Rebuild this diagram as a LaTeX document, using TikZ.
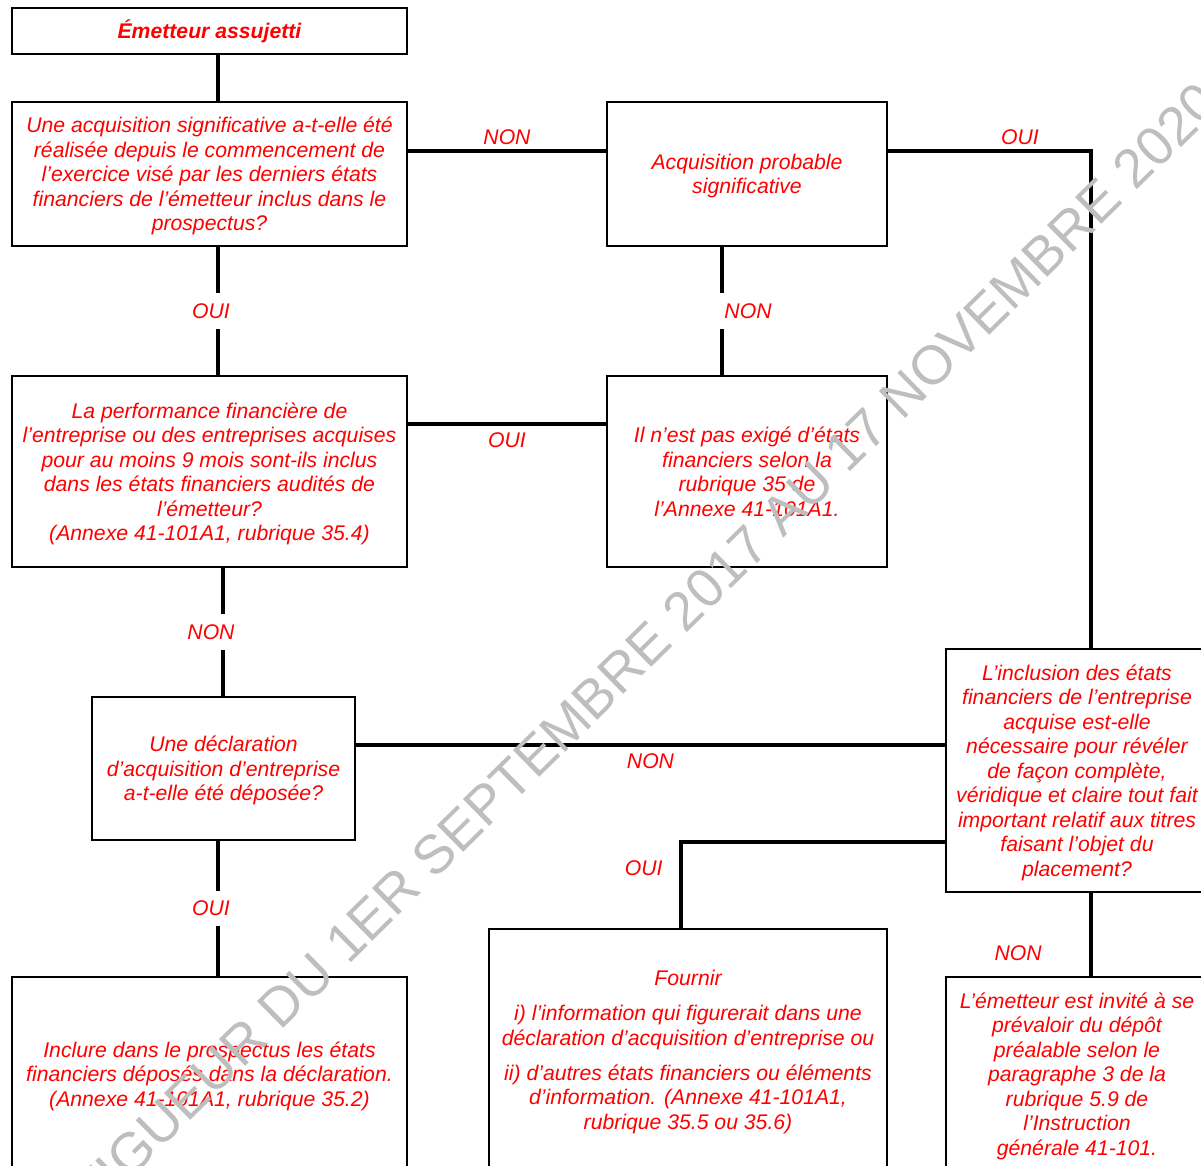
\documentclass[tikz,border=0pt]{standalone}
\usepackage{fontspec}
\setmainfont{Liberation Sans}

\definecolor{txtred}{RGB}{255,0,0}
\definecolor{wmgray}{RGB}{190,190,190}

\begin{document}
\begin{tikzpicture}[x=0.5pt,y=-0.5pt,
  box/.style={draw,line width=1pt,align=center,text=txtred,inner sep=0pt,
    font=\fontsize{10.6}{12.25}\selectfont\itshape},
  qbox/.style={box,text depth=-1pt},
  link/.style={line width=1.7pt},
  lbl/.style={text=txtred,font=\fontsize{10.6}{12.25}\selectfont\itshape},
  gap/.style={lbl,fill=white,inner xsep=3.5pt,inner ysep=5pt}]
  \useasboundingbox (0,0) rectangle (1201,1166);
  \clip (0,0) rectangle (1201,1166);

  % boxes
  \node[box,minimum width=197.5pt,minimum height=23pt] (e_0) at (209.5,31) {\textbf{Émetteur assujetti}};
  \node[qbox,minimum width=197.5pt,minimum height=72pt] (q_1) at (209.5,174)
    {Une acquisition significative a-t-elle été\\réalisée depuis le commencement de\\l’exercice visé par les derniers états\\financiers de l’émetteur inclus dans le\\prospectus?};
  \node[qbox,minimum width=140pt,minimum height=72pt] (q_2) at (747,174) {Acquisition probable\\significative};
  \node[qbox,minimum width=197.5pt,minimum height=95.5pt] (q_3) at (209.5,471.5)
    {La performance financière de\\l’entreprise ou des entreprises acquises\\pour au moins 9 mois sont-ils inclus\\dans les états financiers audités de\\l’émetteur?\\(Annexe 41-101A1, rubrique 35.4)};
  \node[qbox,minimum width=140pt,minimum height=95.5pt] (q_4) at (747,471.5)
    {Il n’est pas exigé d’états\\financiers selon la\\rubrique 35 de\\l’Annexe 41-101A1.};
  \node[qbox,minimum width=131.5pt,minimum height=71.5pt] (q_5) at (223.5,768.5)
    {Une déclaration\\d’acquisition d’entreprise\\a-t-elle été déposée?};
  \node[qbox,minimum width=131pt,minimum height=121.5pt] (q_6) at (1077,770.5)
    {L’inclusion des états\\financiers de l’entreprise\\acquise est-elle\\nécessaire pour révéler\\de façon complète,\\véridique et claire tout fait\\important relatif aux titres\\faisant l’objet du\\placement?};
  \node[qbox,minimum width=197.5pt,minimum height=97pt] (q_7) at (209.5,1074)
    {Inclure dans le prospectus les états\\financiers déposés dans la déclaration.\\(Annexe 41-101A1, rubrique 35.2)};
  \node[qbox,minimum width=199pt,minimum height=121pt] (q_8) at (688,1050)
    {Fournir\\[5.25pt]i) l’information qui figurerait dans une\\déclaration d’acquisition d’entreprise ou\\[5.25pt]ii) d’autres états financiers ou éléments\\d’information. (Annexe 41-101A1,\\rubrique 35.5 ou 35.6)};
  \node[qbox,minimum width=131pt,minimum height=97pt] (q_9) at (1077,1074)
    {L’émetteur est invité à se\\prévaloir du dépôt\\préalable selon le\\paragraphe 3 de la\\rubrique 5.9 de\\l’Instruction\\générale 41-101.};

  % where the lines run
  \coordinate (v_1) at (218,0);
  \coordinate (v_2) at (223,0);
  \coordinate (v_3) at (722,0);
  \coordinate (v_4) at (1091,0);
  \coordinate (v_5) at (681,0);
  \coordinate (h_1) at (0,151);
  \coordinate (h_2) at (0,424);
  \coordinate (h_3) at (0,745);
  \coordinate (h_4) at (0,842);

  % connectors
  \draw[link] (e_0.south -| v_1) -- (q_1.north -| v_1);
  \draw[link] (q_1.east |- h_1) -- node[lbl,above=-1pt] {NON} (q_2.west |- h_1);
  \draw[link] (q_2.east |- h_1) -- node[lbl,above=-1pt,pos=0.65] {OUI} (v_4 |- h_1) -- (q_6.north -| v_4);
  \draw[link] (q_1.south -| v_1) -- node[gap,xshift=-3.5pt] {OUI} (q_3.north -| v_1);
  \draw[link] (q_2.south -| v_3) -- node[gap,xshift=13pt] {NON} (q_4.north -| v_3);
  \draw[link] (q_3.east |- h_2) -- node[lbl,below] {OUI} (q_4.west |- h_2);
  \draw[link] (q_3.south -| v_2) -- node[gap,xshift=-6pt] {NON} (q_5.north -| v_2);
  \draw[link] (q_5.east |- h_3) -- node[lbl,below] {NON} (q_6.west |- h_3);
  \draw[link] (q_6.west |- h_4) -- (v_5 |- h_4) -- node[lbl,left,pos=0.3,xshift=-5pt] {OUI} (q_8.north -| v_5);
  \draw[link] (q_5.south -| v_1) -- node[gap,xshift=-3.5pt] {OUI} (q_7.north -| v_1);
  \draw[link] (q_6.south -| v_4) -- node[lbl,left,pos=0.73,xshift=-20.5pt] {NON} (q_9.north -| v_4);

  % watermark
  \node[text=wmgray,rotate=44.5,font=\fontsize{27.3}{30}\selectfont] (wm) at (612,680)
    {EN VIGUEUR DU 1ER SEPTEMBRE 2017 AU 17 NOVEMBRE 2020};
\end{tikzpicture}
\end{document}
